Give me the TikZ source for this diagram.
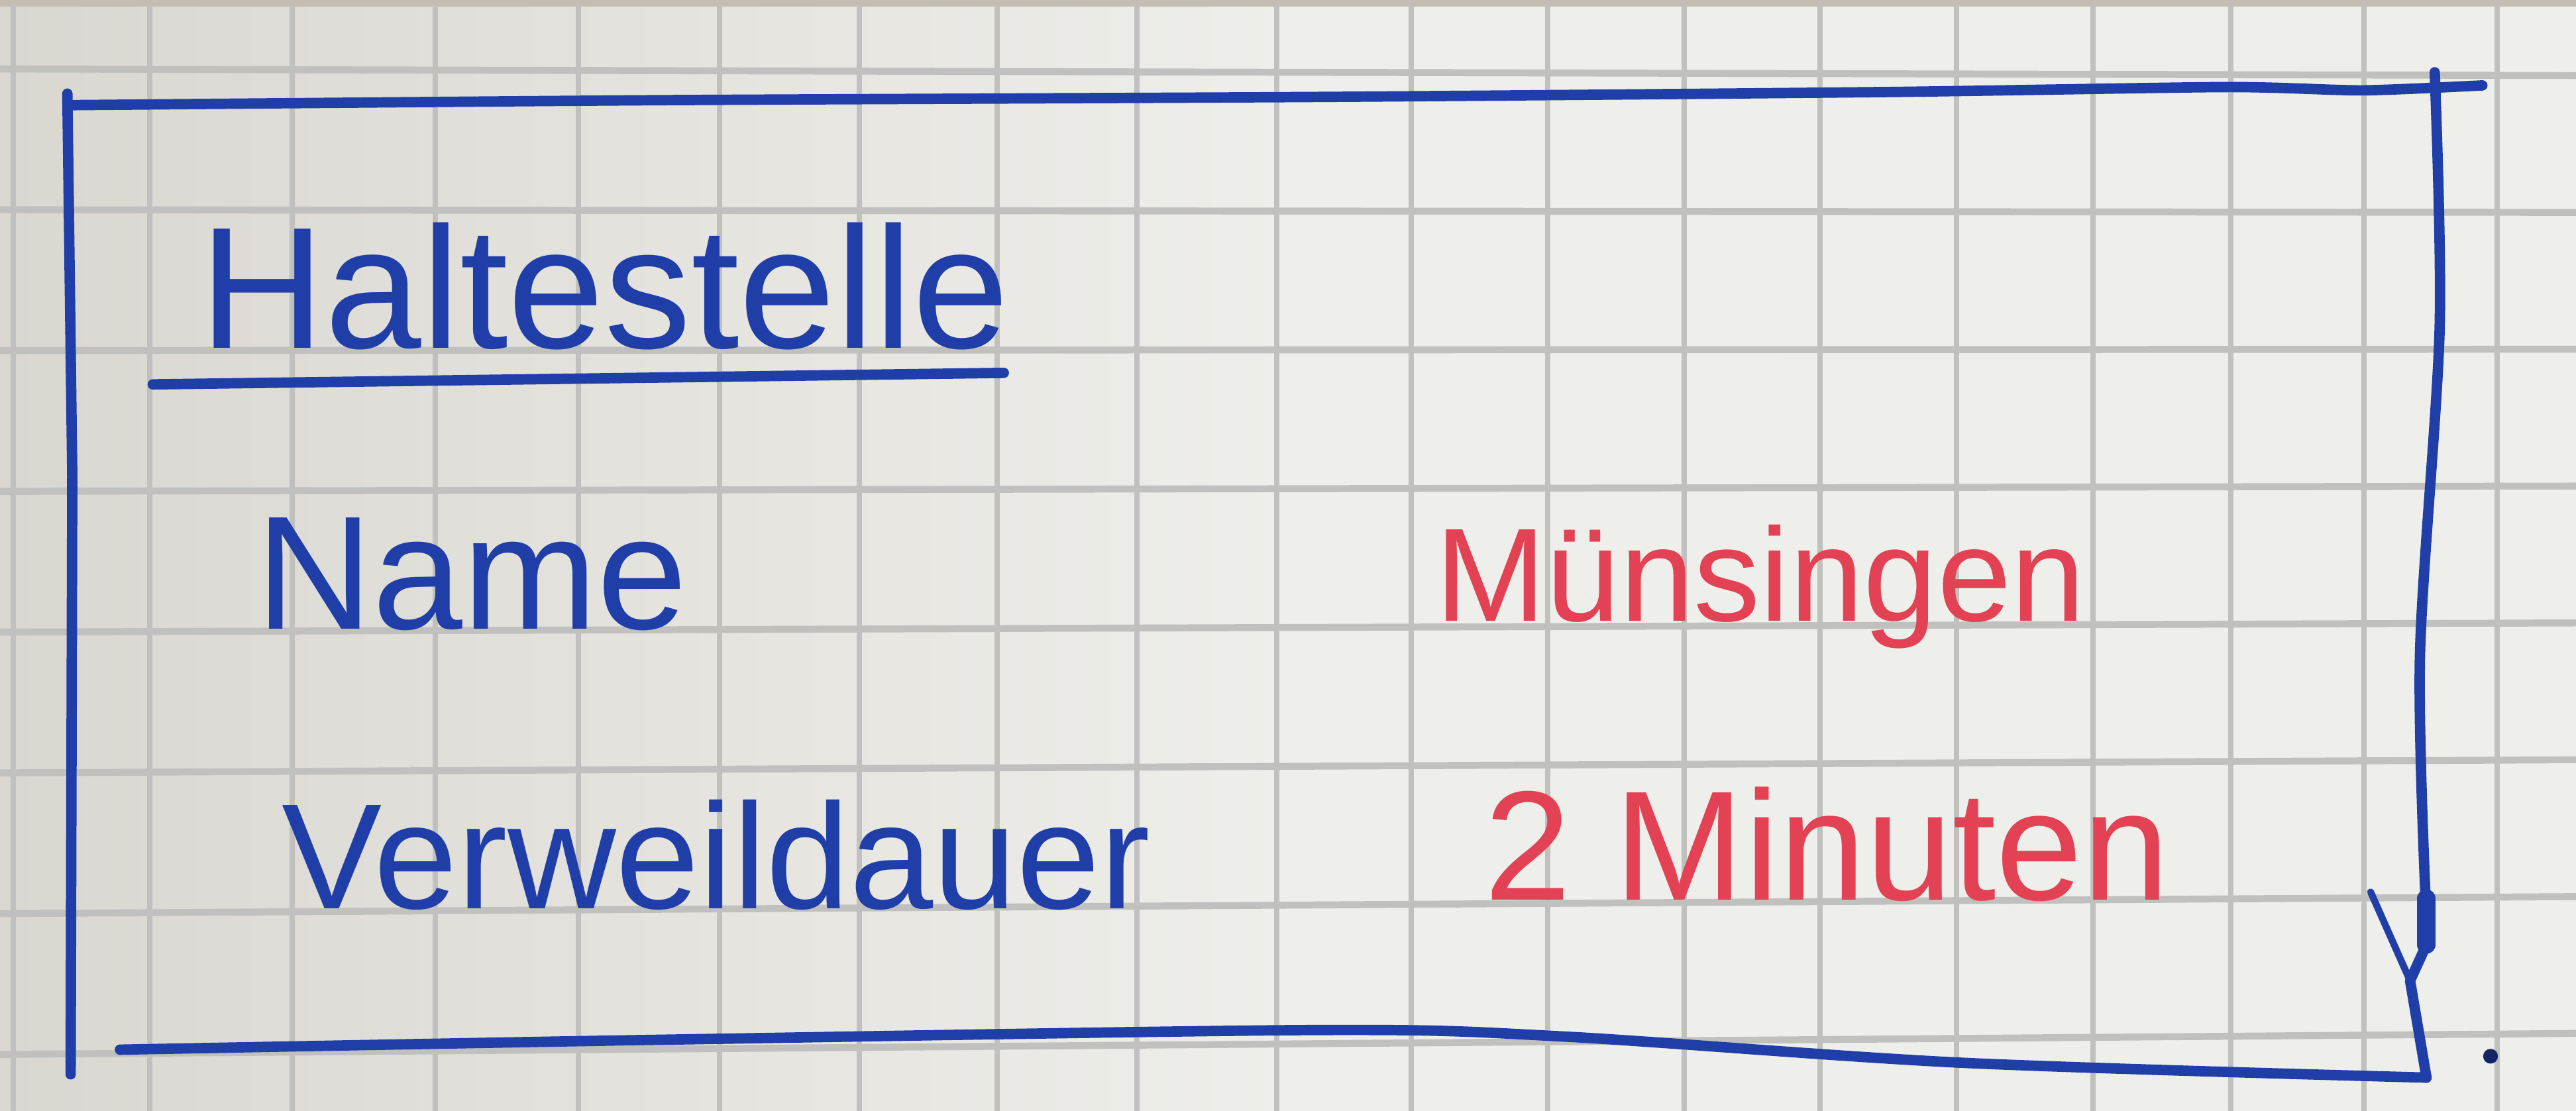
\documentclass[tikz,border=0pt]{standalone}
\usepackage{fontspec}
\setmainfont{Liberation Sans}
\usepackage{xcolor}
\usepackage{tikz}
\usetikzlibrary{positioning}

\definecolor{paper}{RGB}{238,238,234}
\definecolor{paperdark}{RGB}{218,215,209}
\definecolor{paperedge}{RGB}{196,190,178}
\definecolor{gridgray}{RGB}{192,192,190}
\definecolor{inkblue}{RGB}{32,62,168}
\definecolor{inkred}{RGB}{226,66,84}

\begin{document}
\begin{tikzpicture}[x=0.01cm, y=-0.01cm, line cap=round, line join=round,
  gridline/.style={gridgray, line width=0.9pt},
  pen/.style={inkblue, line width=1.8pt},
  hand/.style={inner sep=0pt, anchor=base west},
  bluehand/.style={hand, inkblue},
  redhand/.style={hand, inkred}]
  \useasboundingbox (0,0) rectangle (1568,676);
  %% paper
  \shade[left color=paperdark, right color=paper, middle color=paper] (0,0) rectangle (1568,676);
  \fill[paperedge] (0,0) rectangle (1568,4);
  %% squared grid
  \foreach \x in {8,91,178,265,352,438,523,607,692,777,859,942,1025,1108,1191,1274,1358,1439,1520}{
    \draw[gridline] (\x,4) -- (\x,676);
  }
  \foreach \k in {0,...,7}{
    \pgfmathsetmacro{\yl}{42+85.7*\k}
    \pgfmathsetmacro{\yr}{46+83.3*\k}
    \draw[gridline, line width=1.2pt] (0,\yl) -- (1568,\yr);
  }
  %% box
  \draw[pen] (41,57) -- (44,290) -- (43,654);
  \draw[pen] plot[smooth, tension=0.4] coordinates {(45,64) (400,61) (806,59) (1150,56) (1355,53) (1438,55) (1511,52)};
  \draw[pen] plot[smooth, tension=0.5] coordinates {(1482,44) (1485,200) (1473,400) (1477,560)};
  \draw[pen, line width=3.2pt] (1477,547) -- (1477,575);
  \draw[pen] (1477,575) -- (1467,597) -- (1477,656);
  \draw[pen, line width=1.2pt] (1443,543) -- (1467,597);
  \draw[pen] plot[smooth] coordinates {(73,639) (400,633) (806,627) (952,631) (1195,647) (1477,656)};
  \fill[inkblue!60!black] (1516,643) circle (4.5);
  %% texts
  \node[bluehand, font=\fontsize{30}{32}\selectfont] (title) at (121,212) {Haltestelle};
  \draw[pen] (93,234) -- (611,227);
  \node[bluehand, font=\fontsize{28}{30}\selectfont] (name) at (155,383) {Name};
  \node[bluehand, font=\fontsize{26}{28}\selectfont] (dwell) at (171,553) {Verweildauer};
  \node[redhand, font=\fontsize{23}{25}\selectfont] (nameval) at (873,378) {Münsingen};
  \node[redhand, font=\fontsize{27}{29}\selectfont] (dwellval) at (903,548) {2 Minuten};
\end{tikzpicture}
\end{document}
